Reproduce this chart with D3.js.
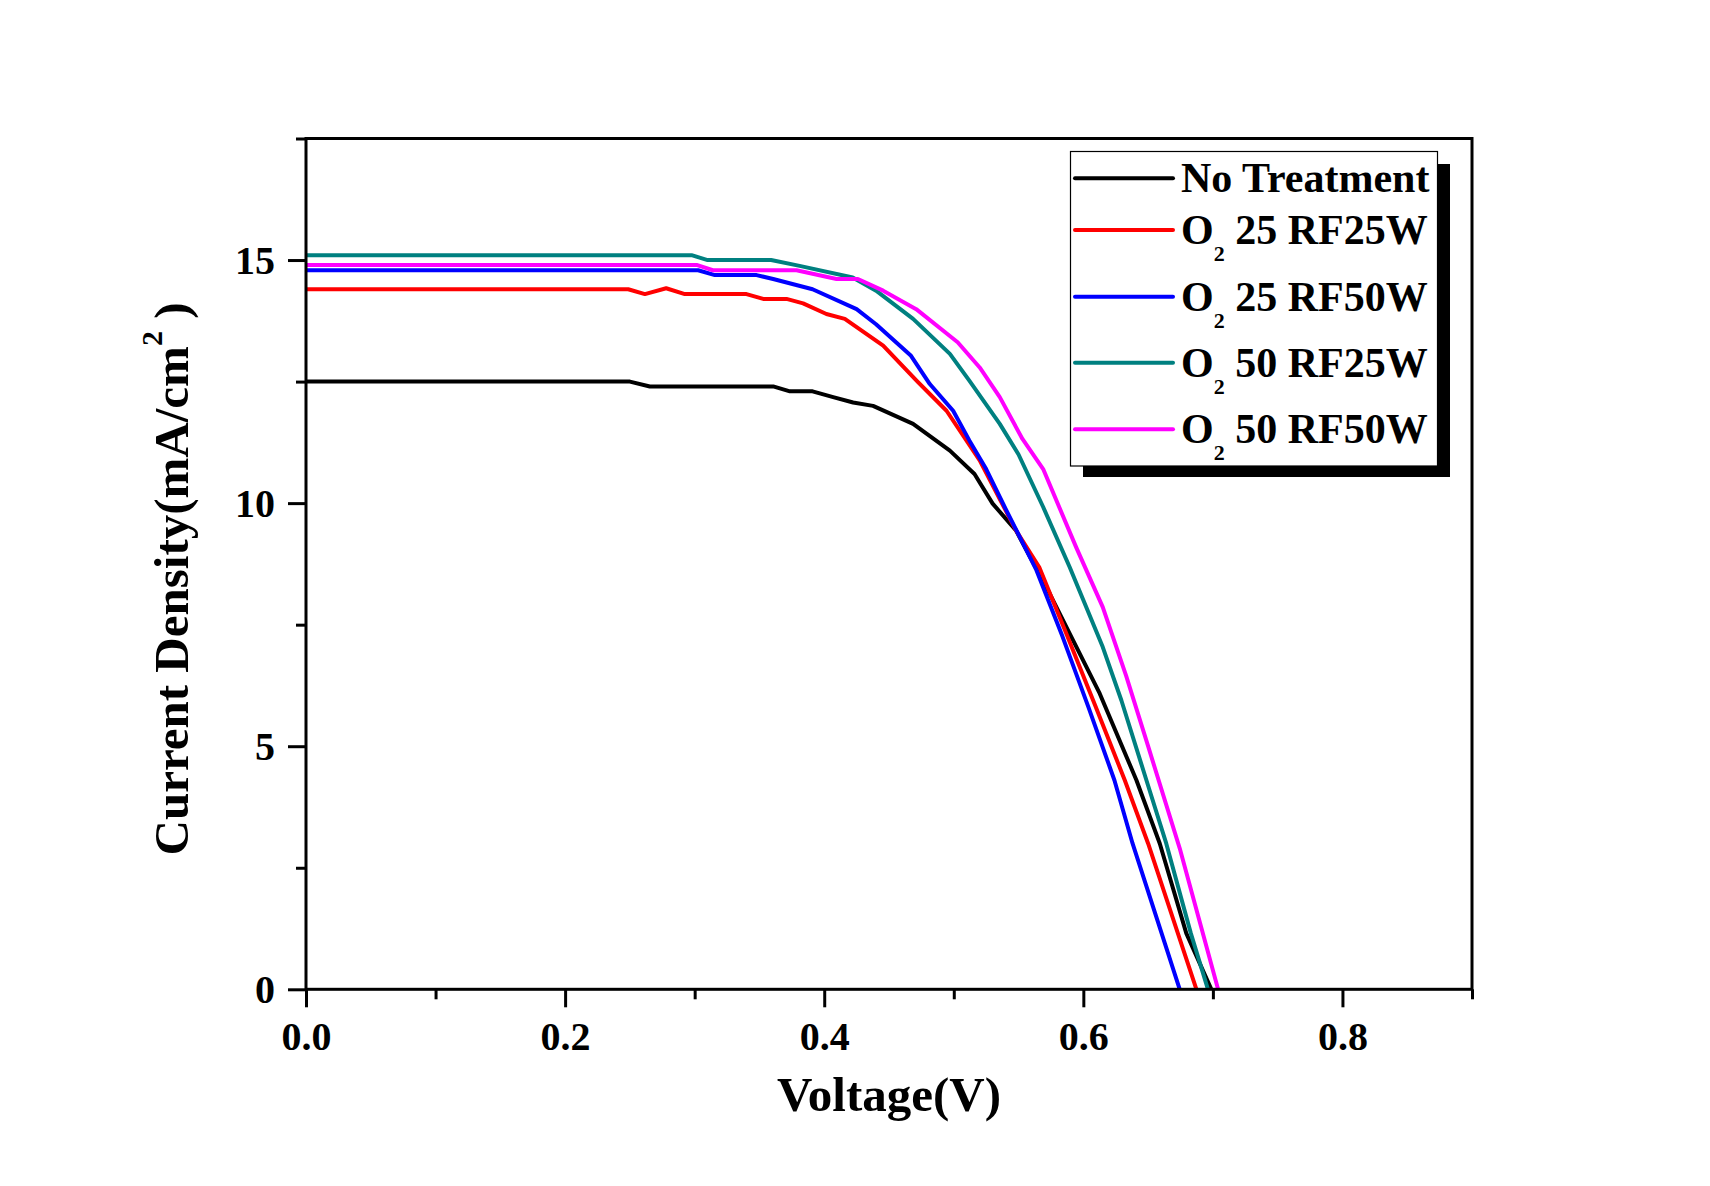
<!DOCTYPE html>
<html>
<head>
<meta charset="utf-8">
<script src="https://cdn.jsdelivr.net/npm/d3@7"></script>
<style>
  html, body { margin: 0; padding: 0; background: #fff; }
  svg { display: block; }
  text { font-family: "Liberation Serif", "Times New Roman", serif; font-weight: bold; fill: #000; }
</style>
</head>
<body>
<svg id="chart" width="1710" height="1186"></svg>
<script>
// ---- data ----
const seriesNames = ["No Treatment", "O2 25 RF25W", "O2 25 RF50W", "O2 50 RF25W", "O2 50 RF50W"];
const legendMain = ["No Treatment", "O", "O", "O", "O"];
const legendSub = ["", "2", "2", "2", "2"];
const legendRest = ["", " 25 RF25W", " 25 RF50W", " 50 RF25W", " 50 RF50W"];
const seriesColors = ["#000000", "#ff0000", "#0000ff", "#008080", "#ff00ff"];

const vNoTreat = [0, 0.25, 0.2654, 0.3606, 0.3735, 0.391, 0.4069, 0.4223, 0.4377, 0.4686, 0.497, 0.516, 0.530, 0.548, 0.574, 0.592, 0.6127, 0.641, 0.659, 0.6795, 0.6988];
const jNoTreat = [12.5, 12.5, 12.4, 12.4, 12.3, 12.3, 12.18, 12.07, 12.0, 11.63, 11.08, 10.6, 9.99, 9.44, 8.14, 7.18, 6.08, 4.30, 3.0, 1.15, 0];

const vO25RF25 = [0, 0.2487, 0.2616, 0.278, 0.2924, 0.340, 0.3529, 0.3709, 0.3837, 0.4017, 0.4159, 0.4455, 0.472, 0.4944, 0.520, 0.548, 0.566, 0.587, 0.609, 0.632, 0.650, 0.6873];
const jO25RF25 = [14.4, 14.4, 14.3, 14.42, 14.3, 14.3, 14.2, 14.2, 14.11, 13.89, 13.79, 13.24, 12.5, 11.9, 10.88, 9.44, 8.68, 7.31, 5.85, 4.30, 3.0, 0];

const vO25RF50 = [0, 0.3027, 0.3156, 0.3478, 0.3606, 0.391, 0.425, 0.440, 0.467, 0.4815, 0.4995, 0.512, 0.525, 0.5406, 0.5638, 0.584, 0.604, 0.624, 0.638, 0.6744];
const jO25RF50 = [14.79, 14.79, 14.69, 14.69, 14.61, 14.40, 13.99, 13.68, 13.03, 12.45, 11.90, 11.29, 10.70, 9.85, 8.62, 7.25, 5.8, 4.30, 3.0, 0];

const vO50RF25 = [0, 0.2976, 0.310, 0.359, 0.381, 0.422, 0.440, 0.4686, 0.497, 0.512, 0.5355, 0.55, 0.569, 0.5895, 0.615, 0.6294, 0.6487, 0.664, 0.683, 0.6962];
const jO50RF25 = [15.10, 15.10, 15.0, 15.0, 14.88, 14.64, 14.37, 13.79, 13.07, 12.52, 11.63, 11.0, 9.92, 8.68, 7.04, 5.94, 4.30, 3.0, 1.15, 0];

const vO50RF50 = [0, 0.3015, 0.314, 0.3786, 0.4095, 0.426, 0.4455, 0.471, 0.503, 0.520, 0.5355, 0.553, 0.569, 0.5945, 0.615, 0.633, 0.650, 0.6744, 0.704];
const jO50RF50 = [14.90, 14.90, 14.79, 14.79, 14.61, 14.61, 14.37, 13.99, 13.31, 12.79, 12.18, 11.32, 10.70, 9.09, 7.86, 6.45, 5.0, 2.9, 0];

const xMajorTicks = [0, 0.2, 0.4, 0.6, 0.8];
const xMinorTicks = [0.1, 0.3, 0.5, 0.7, 0.9];
const xTickLabels = ["0.0", "0.2", "0.4", "0.6", "0.8"];
const yMajorTicks = [0, 5, 10, 15];
const yMinorTicks = [2.5, 7.5, 12.5, 17.5];
const yTickLabels = ["0", "5", "10", "15"];
const xTitle = "Voltage(V)";
const yTitleMain = "Current Density(mA/cm";
const yTitleSup = "2";
const yTitleEnd = ")";

// ---- build ----
const series = [
  [vNoTreat, jNoTreat], [vO25RF25, jO25RF25], [vO25RF50, jO25RF50],
  [vO50RF25, jO50RF25], [vO50RF50, jO50RF50]
].map(([v, j], i) => ({ name: seriesNames[i], color: seriesColors[i], pts: v.map((d, k) => [d, j[k]]) }));

const svg = d3.select("#chart");
const L = 306, R = 1472, T = 138.5, B = 989.3;
const x = d3.scaleLinear().domain([0, 0.9]).range([L, R]);
const y = d3.scaleLinear().domain([0, 17.5]).range([B, T]);

// data lines (clipped to plot)
svg.append("clipPath").attr("id", "clip").append("rect")
  .attr("x", L).attr("y", T).attr("width", R - L).attr("height", B - T);
const line = d3.line().x(d => x(d[0])).y(d => y(d[1]));
svg.append("g").attr("clip-path", "url(#clip)")
  .selectAll("path").data(series).join("path")
  .attr("d", d => line(d.pts))
  .attr("fill", "none").attr("stroke", d => d.color)
  .attr("stroke-width", 4).attr("stroke-linejoin", "round");

// axes
function styleAxis(g) {
  g.select(".domain").remove();
  g.selectAll(".tick line").attr("stroke", "#000").attr("stroke-width", 3);
}
const fmtX = d3.scaleOrdinal().domain(xMajorTicks).range(xTickLabels);
const fmtY = d3.scaleOrdinal().domain(yMajorTicks).range(yTickLabels);

const gx = svg.append("g").attr("transform", `translate(0,${B})`)
  .call(d3.axisBottom(x).tickValues(xMajorTicks).tickSize(18).tickFormat(d => fmtX(d)));
styleAxis(gx);
gx.selectAll(".tick text").attr("y", 61).attr("dy", null).attr("font-size", 40)
  .attr("font-family", null).style("font-family", "'Liberation Serif', serif").style("font-weight", "bold");

const gxm = svg.append("g").attr("transform", `translate(0,${B})`)
  .call(d3.axisBottom(x).tickValues(xMinorTicks).tickSize(10).tickFormat(""));
styleAxis(gxm);

const gy = svg.append("g").attr("transform", `translate(${L},0)`)
  .call(d3.axisLeft(y).tickValues(yMajorTicks).tickSize(18).tickFormat(d => fmtY(d)));
styleAxis(gy);
gy.selectAll(".tick text").attr("x", -31).attr("dy", "0.34em").attr("font-size", 40)
  .attr("font-family", null).style("font-family", "'Liberation Serif', serif").style("font-weight", "bold");

const gym = svg.append("g").attr("transform", `translate(${L},0)`)
  .call(d3.axisLeft(y).tickValues(yMinorTicks).tickSize(10).tickFormat(""));
styleAxis(gym);

// frame
svg.append("rect").attr("x", L).attr("y", T).attr("width", R - L).attr("height", B - T)
  .attr("fill", "none").attr("stroke", "#000").attr("stroke-width", 3);

// axis titles
svg.append("text").attr("x", (L + R) / 2).attr("y", 1111).attr("text-anchor", "middle")
  .attr("font-size", 49).text(xTitle);

const yt = svg.append("text").attr("transform", "translate(188,579) rotate(-90)")
  .attr("text-anchor", "middle").attr("font-size", 49).style("white-space", "pre");
yt.append("tspan").text(yTitleMain);
yt.append("tspan").attr("font-size", 30).attr("dy", -26).text(yTitleSup);
yt.append("tspan").attr("dy", 26).text(" " + yTitleEnd);

// legend
const lg = svg.append("g");
lg.append("rect").attr("x", 1083).attr("y", 164).attr("width", 367).attr("height", 313).attr("fill", "#000");
lg.append("rect").attr("x", 1070.5).attr("y", 151.5).attr("width", 367).attr("height", 314.5)
  .attr("fill", "#fff").attr("stroke", "#000").attr("stroke-width", 1.2);
const rowY = [178.3, 230, 296.7, 362.7, 429.3];
series.forEach((s, i) => {
  lg.append("line").attr("x1", 1075).attr("x2", 1173).attr("y1", rowY[i]).attr("y2", rowY[i])
    .attr("stroke", s.color).attr("stroke-width", 4).attr("stroke-linecap", "round");
  const t = lg.append("text").attr("x", 1181).attr("y", rowY[i] + 14).attr("font-size", 42)
    .style("white-space", "pre");
  t.append("tspan").text(legendMain[i]);
  if (legendSub[i]) {
    t.append("tspan").attr("font-size", 22).attr("dy", 17).text(legendSub[i]);
    t.append("tspan").attr("dy", -17).text(legendRest[i]);
  }
});
</script>
</body>
</html>
